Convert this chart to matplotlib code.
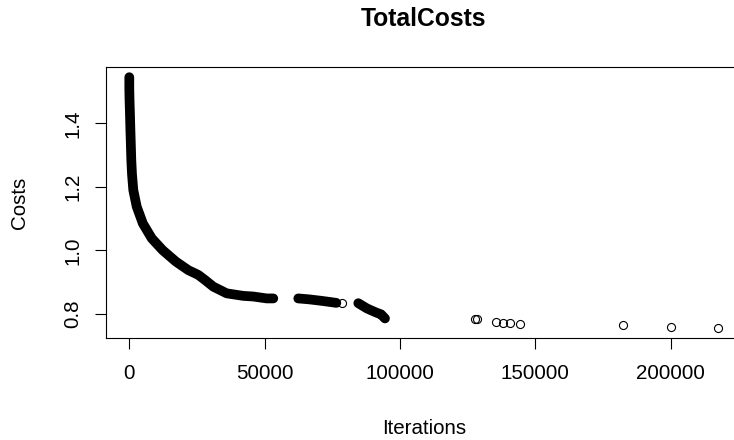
"""
TotalCosts vs Iterations scatter (R base-graphics look)
"""

import matplotlib
matplotlib.use("Agg")
import matplotlib.pyplot as plt

# dense part of the run (points overlap into a solid band)
curve_iter = [0, 0, 100, 250, 370, 550, 740, 1000, 1478, 2734, 5000, 8300,
              12300, 17200, 21800, 25491, 27967, 31033, 35984, 42116, 45810,
              50761, 53200]
curve_cost = [1.545, 1.51, 1.47, 1.43, 1.39, 1.34, 1.285, 1.24, 1.19, 1.138,
              1.085, 1.038, 1.001, 0.965, 0.938, 0.923, 0.907, 0.886, 0.865,
              0.857, 0.855, 0.849, 0.849]

# second and third clusters
cluster2_iter = [62435, 66500, 70452, 74000, 76500]
cluster2_cost = [0.849, 0.846, 0.842, 0.838, 0.835]
cluster3_iter = [84602, 87705, 89500, 91400, 93000, 94466]
cluster3_cost = [0.834, 0.818, 0.811, 0.804, 0.799, 0.786]

# isolated points
sparse_iter = [62435, 78469, 127700, 128600, 135500, 138200, 140600, 144300,
               182300, 200000, 217600]
sparse_cost = [0.849, 0.834, 0.783, 0.783, 0.776, 0.773, 0.771, 0.768,
               0.765, 0.758, 0.755]

x_ticks = [0, 50000, 100000, 150000, 200000]
x_tick_labels = ["0", "50000", "100000", "150000", "200000"]
y_ticks = [0.8, 1.0, 1.2, 1.4]
y_tick_labels = ["0.8", "1.0", "1.2", "1.4"]

plt.rcParams['font.family'] = ['Liberation Sans', 'DejaVu Sans']

fig = plt.figure(figsize=(7.34, 4.4), dpi=100)
ax = fig.add_axes([0.1444, 0.2311, 0.8662, 0.6173])

band = dict(color='black', linewidth=7.0, solid_capstyle='round')
ax.plot(curve_iter, curve_cost, **band)
ax.plot(cluster2_iter, cluster2_cost, **band)
ax.plot(cluster3_iter, cluster3_cost, **band)

ax.plot(sparse_iter, sparse_cost, 'o', markerfacecolor='none',
        markeredgecolor='black', markersize=5.8, markeredgewidth=0.8)

ax.set_xlim(-8608, 226280)
ax.set_ylim(0.7235, 1.578)

ax.set_xticks(x_ticks)
ax.set_xticklabels(x_tick_labels)
ax.set_yticks(y_ticks)
ax.set_yticklabels(y_tick_labels)

ax.tick_params(axis='both', length=8.2, width=0.8, labelsize=14.8,
               colors='black')
ax.tick_params(axis='x', pad=10.6)
ax.tick_params(axis='y', pad=8.9, labelrotation=90)
for lbl in ax.get_yticklabels():
    lbl.set_va('center')

for side in ['top', 'bottom', 'left', 'right']:
    ax.spines[side].set_linewidth(0.8)
    ax.spines[side].set_color('black')

ax.set_title('TotalCosts', fontsize=17.7, fontweight='bold', pad=29.3)

ax.set_xlabel('Iterations', fontsize=14.8)
ax.xaxis.set_label_coords(0.5, -0.3524)
ax.xaxis.label.set_va('baseline')

ax.set_ylabel('Costs', fontsize=14.8)
ax.yaxis.set_label_coords(-0.1353, 0.5)
ax.yaxis.label.set_va('center')

fig.savefig('out.png', dpi=100)
plt.close(fig)
